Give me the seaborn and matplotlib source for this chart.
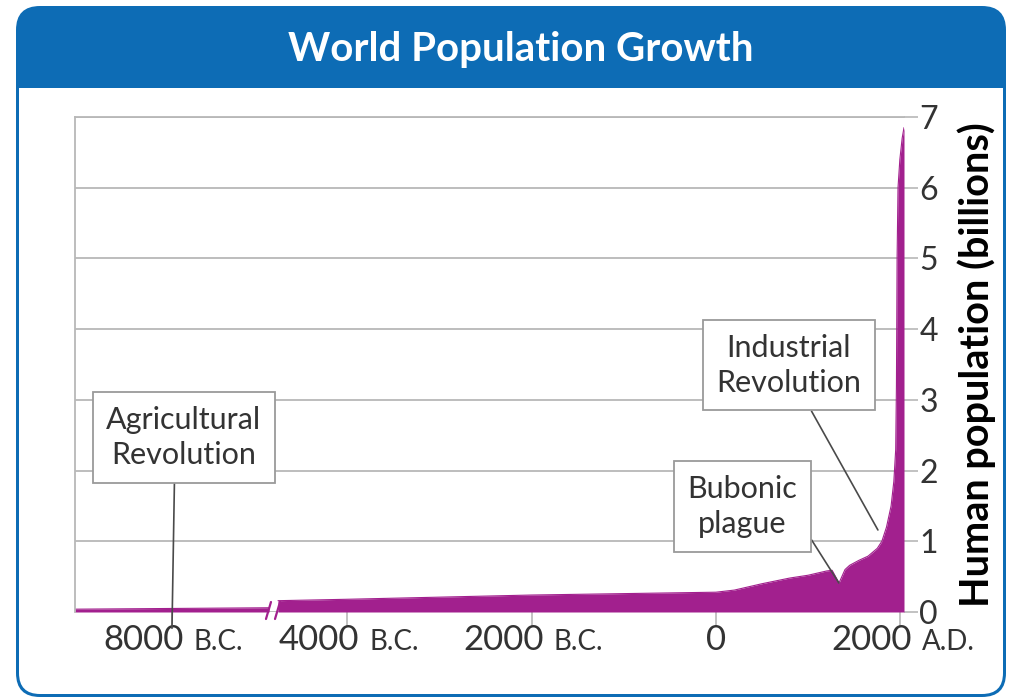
import numpy as np
import matplotlib
matplotlib.use("Agg")
import matplotlib.pyplot as plt
import matplotlib.transforms as mtransforms
from matplotlib.patches import FancyBboxPatch, Rectangle
import seaborn as sns

# ---------------- data ----------------
early_years = [-10000, -8000, -6000]
early_pop = [0.04, 0.05, 0.06]

years = [-4750, -4000, -3000, -2000, -1000, 0, 200, 500, 800, 1000, 1200,
         1260, 1335, 1400, 1450, 1550, 1650, 1750, 1800, 1850, 1900, 1930,
         1950, 1958, 1965, 1975, 1995, 2020, 2040]
pop = [0.16, 0.18, 0.21, 0.24, 0.26, 0.28, 0.31, 0.40, 0.48, 0.52, 0.58,
       0.59, 0.41, 0.60, 0.66, 0.73, 0.79, 0.90, 1.00, 1.20, 1.50, 1.85,
       2.30, 3.20, 5.00, 6.00, 6.40, 6.70, 6.85]

tick_years = [-8000, -4000, -2000, 0, 2000]
tick_numbers = ["8000", "4000", "2000", "0", "2000"]
tick_suffixes = ["B.C.", "B.C.", "B.C.", "", "A.D."]
y_ticks = [0, 1, 2, 3, 4, 5, 6, 7]

notes = ["Agricultural\nRevolution", "Industrial\nRevolution", "Bubonic\nplague"]
note_text_xy = [(-7753, 2.47), (792, 3.49), (287, 1.49)]
note_point_xy = [(-8000, -0.23), (1757, 1.16), (1334, 0.41)]
note_relpos = [(0.44, 0.0), (0.6, 0.0), (1.0, 0.33)]

break_years = [-6000, -4750]

title = "World Population Growth"
ylabel = "Human population (billions)"

# broken time axis: piecewise-linear mapping
brk_years = [-40000, -10000, -6000, -4750, 10000]
brk_u = [-6952 - 30000 * 0.526, -6952, -4848, -4750, 10000]


def fwd(x):
    return np.interp(x, brk_years, brk_u)


def inv(u):
    return np.interp(u, brk_u, brk_years)


# ---------------- style ----------------
sns.set_theme(style="white")
plt.rcParams["font.family"] = ["Lato", "DejaVu Sans"]

MAG = "#a2208e"
BLUE = "#0d6cb5"
TXT = "#333333"
GRID = "#b8b8b8"

fig = plt.figure(figsize=(10.09, 7.0), dpi=100, facecolor="white")

# frame / header
bg = fig.add_axes([0, 0, 1, 1], zorder=-5)
bg.set_xlim(0, 1009)
bg.set_ylim(700, 0)
bg.axis("off")
bg.add_patch(FancyBboxPatch((16, 6), 990, 691,
                            boxstyle="round,pad=0,rounding_size=24",
                            fc=BLUE, ec="none"))
bg.add_patch(FancyBboxPatch((19, 88), 984, 606,
                            boxstyle="round,pad=0,rounding_size=21",
                            fc="white", ec="none"))
bg.add_patch(Rectangle((19, 88), 984, 40, fc="white", ec="none"))
fig.text(521 / 1009, 1 - 50 / 700, title, color="white", fontsize=29,
         fontweight="bold", ha="center", va="center")

# main axes
ax = fig.add_axes([75 / 1009, 1 - 612 / 700, 829 / 1009, 495 / 700])
ax.set_facecolor("white")
ax.set_xscale("function", functions=(fwd, inv))
ax.set_xlim(-10000, 2040)
ax.set_ylim(0, 7)

sns.lineplot(x=early_years, y=early_pop, ax=ax, color=MAG, lw=0.8)
sns.lineplot(x=years, y=pop, ax=ax, color=MAG, lw=0.8)
ax.fill_between(early_years, 0, early_pop, color=MAG, lw=0, zorder=2)
ax.fill_between(years, 0, pop, color=MAG, lw=0, zorder=2)

# slanted break marks
for by in break_years:
    tr = mtransforms.offset_copy(ax.transData, fig=fig, x=-3, y=-7,
                                 units="dots")
    ax.annotate("", xy=(by, 0), xycoords=tr, xytext=(5, 17),
                textcoords="offset pixels", annotation_clip=False,
                arrowprops=dict(arrowstyle="-", color=MAG, lw=1.6,
                                shrinkA=0, shrinkB=0))

ax.set_axisbelow(True)
ax.yaxis.grid(True, color=GRID, lw=1.3)
ax.xaxis.grid(False)
for s in ["right", "bottom"]:
    ax.spines[s].set_visible(False)
for s in ["left", "top"]:
    ax.spines[s].set_color(GRID)
    ax.spines[s].set_linewidth(1.3)

ax.yaxis.tick_right()
ax.set_yticks(y_ticks)
ax.set_yticklabels([str(v) for v in y_ticks])
ax.tick_params(axis="y", right=True, left=False, length=10, width=1.2,
               color=GRID, labelsize=23, labelcolor=TXT, pad=1)
ax.yaxis.set_label_position("right")
ax.set_ylabel(ylabel, fontsize=28.5, fontweight="bold", color="black",
              labelpad=14)

ax.set_xticks(tick_years)
ax.set_xticklabels([""] * len(tick_years))
ax.tick_params(axis="x", bottom=True, length=10, width=1.2, color=GRID)

xtr = ax.get_xaxis_transform()
for yr, num, suf in zip(tick_years, tick_numbers, tick_suffixes):
    if suf:
        t1 = mtransforms.offset_copy(xtr, fig=fig, x=12, y=-38, units="dots")
        ax.text(yr, 0, num, transform=t1, ha="right", va="baseline",
                fontsize=25, color=TXT, clip_on=False)
        t2 = mtransforms.offset_copy(xtr, fig=fig, x=22, y=-38, units="dots")
        ax.text(yr, 0, suf, transform=t2, ha="left", va="baseline",
                fontsize=20, color=TXT, clip_on=False)
    else:
        t1 = mtransforms.offset_copy(xtr, fig=fig, x=0, y=-38, units="dots")
        ax.text(yr, 0, num, transform=t1, ha="center", va="baseline",
                fontsize=25, color=TXT, clip_on=False)

for txt, txy, pxy, rp in zip(notes, note_text_xy, note_point_xy, note_relpos):
    ax.annotate(txt, xy=pxy, xytext=txy, ha="center", va="center",
                fontsize=22, color=TXT, linespacing=1.3, zorder=5,
                annotation_clip=False,
                bbox=dict(boxstyle="square,pad=0.45", fc="white",
                          ec="#9a9a9a", lw=1.3),
                arrowprops=dict(arrowstyle="-", color="#4a4a4a", lw=1.2,
                                relpos=rp, shrinkA=0, shrinkB=0))

fig.savefig("out.png", dpi=100, facecolor="white")
